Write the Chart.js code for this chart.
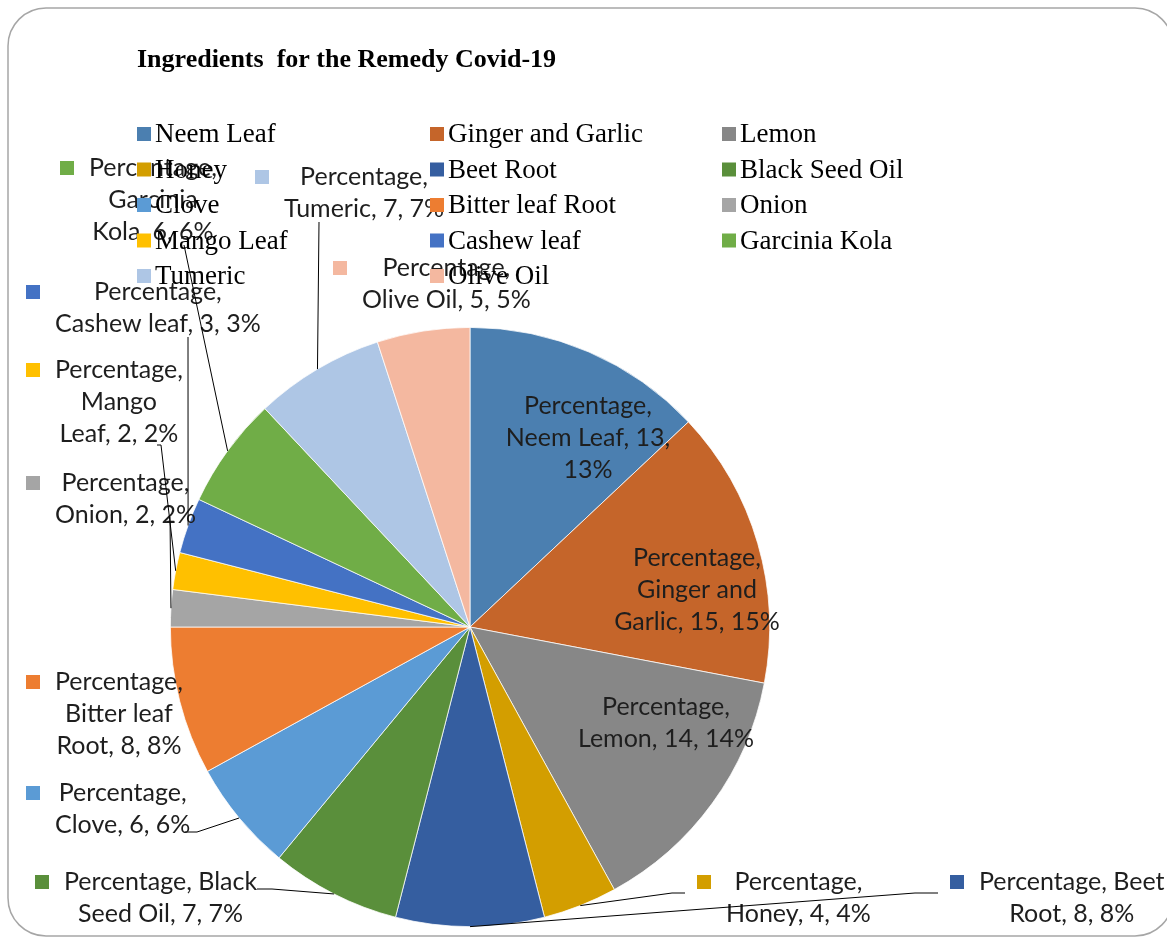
<!DOCTYPE html>
<html>
<head>
<meta charset="utf-8">
<script src="https://cdn.jsdelivr.net/npm/chart.js@4.4.0/dist/chart.umd.min.js"></script>
<style>
  body { margin: 0; background: #fff; }
</style>
</head>
<body>
<canvas id="myChart" width="1167" height="938"></canvas>
<script>
// dati del grafico
var titolo = 'Ingredients  for the Remedy Covid-19';
var nomeSerie = 'Percentage';
var ingredienti = ['Neem Leaf', 'Ginger and Garlic', 'Lemon', 'Honey', 'Beet Root', 'Black Seed Oil', 'Clove',
  'Bitter leaf Root', 'Onion', 'Mango Leaf', 'Cashew leaf', 'Garcinia Kola', 'Tumeric', 'Olive Oil'];
var percentuali = [13, 15, 14, 4, 8, 7, 6, 8, 2, 2, 3, 6, 7, 5];
var colori = ['#4b7fb0', '#c5652a', '#878787', '#d39e00', '#355ea0', '#5a8f3b', '#5b9bd5',
  '#ed7d31', '#a5a5a5', '#ffc000', '#4472c4', '#70ad47', '#aec6e5', '#f4b8a0'];

// posizione delle etichette rispetto al centro della torta (solo stile)
var etichette = [
  { inside: true, dx: 118, dy: -189, righe: [1, 3, 1] },
  { inside: true, dx: 227, dy: -37, righe: [1, 2, 3] },
  { inside: true, dx: 196, dy: 96, righe: [1, 3] },
  { dx: 227, dy: 255, righe: [1, 3], linea: [[202, 266], [215, 266]] },
  { dx: 480, dy: 255, righe: [2, 3], linea: [[445, 266], [468, 266]] },
  { dx: -435, dy: 255, righe: [2, 4], linea: [[-198, 262], [-213, 262]] },
  { dx: -444, dy: 166, righe: [1, 3], linea: [[-273, 205], [-285, 205]] },
  { dx: -444, dy: 55, righe: [1, 2, 3] },
  { dx: -444, dy: -144, righe: [1, 3], linea: [[-300, -110]] },
  { dx: -444, dy: -257, righe: [1, 1, 3], linea: [[-309, -182], [-313, -182]] },
  { dx: -444, dy: -335, righe: [1, 4], linea: [[-282, -290]] },
  { dx: -410, dy: -459, righe: [1, 1, 3], linea: [[-286, -382]] },
  { dx: -215, dy: -450, righe: [1, 3], linea: [[-151, -405]] },
  { dx: -137, dy: -359, righe: [1, 4] }
];

var fontEtichetta = '25px Lato';
var fontLegenda = '27px "Liberation Serif"';
var fontTitolo = 'bold 26px "Liberation Serif"';

function testoEtichetta(i, totale) {
  var pct = Math.round(percentuali[i] / totale * 100);
  var parole = (nomeSerie + ', ' + ingredienti[i] + ', ' + percentuali[i] + ', ' + pct + '%').split(' ');
  var righe = [];
  var k = 0;
  etichette[i].righe.forEach(function(n) {
    righe.push(parole.slice(k, k + n).join(' '));
    k += n;
  });
  return righe;
}

var cornice = {
  id: 'cornice',
  beforeDraw: function(chart) {
    var ctx = chart.ctx;
    ctx.save();
    ctx.fillStyle = '#fff';
    ctx.fillRect(0, 0, chart.width, chart.height);
    ctx.strokeStyle = '#a6a6a6';
    ctx.lineWidth = 1.5;
    ctx.beginPath();
    ctx.roundRect(8, 8, 1165, 928, 38);
    ctx.stroke();
    ctx.restore();
  }
};

var titoloELegenda = {
  id: 'titoloELegenda',
  afterDraw: function(chart) {
    var ctx = chart.ctx;
    ctx.save();
    ctx.fillStyle = '#000';
    ctx.textBaseline = 'middle';
    ctx.font = fontTitolo;
    ctx.fillText(titolo, 137, 60);

    // legenda a tre colonne
    ctx.font = fontLegenda;
    var colonne = [137, 430, 722];
    for (var i = 0; i < ingredienti.length; i++) {
      var x = colonne[i % 3];
      var y = 134 + Math.floor(i / 3) * 35.5;
      ctx.fillStyle = colori[i];
      ctx.fillRect(x, y - 7, 14, 14);
      ctx.fillStyle = '#000';
      ctx.fillText(ingredienti[i], x + 18, y + 1);
    }
    ctx.restore();
  }
};

var etichetteDati = {
  id: 'etichetteDati',
  afterDatasetsDraw: function(chart) {
    var ctx = chart.ctx;
    var archi = chart.getDatasetMeta(0).data;
    var totale = percentuali.reduce(function(a, b) { return a + b; }, 0);
    ctx.save();
    ctx.font = fontEtichetta;
    ctx.textAlign = 'center';
    ctx.textBaseline = 'middle';
    var passo = 32;

    archi.forEach(function(arco, i) {
      var cfg = etichette[i];
      var cx = arco.x, cy = arco.y;
      var righe = testoEtichetta(i, totale);

      // linea guida
      if (cfg.linea) {
        var medio = (arco.startAngle + arco.endAngle) / 2;
        ctx.strokeStyle = '#000';
        ctx.lineWidth = 1;
        ctx.beginPath();
        ctx.moveTo(cx + Math.cos(medio) * arco.outerRadius, cy + Math.sin(medio) * arco.outerRadius);
        cfg.linea.forEach(function(p) { ctx.lineTo(cx + p[0], cy + p[1]); });
        ctx.stroke();
      }

      ctx.fillStyle = '#1e1e1e';
      if (cfg.inside) {
        var y0 = cy + cfg.dy - (righe.length - 1) * passo / 2;
        righe.forEach(function(r, k) {
          ctx.fillText(r, cx + cfg.dx, y0 + k * passo);
        });
      } else {
        var left = cx + cfg.dx;
        var top = cy + cfg.dy;
        var maxW = 0;
        righe.forEach(function(r) { maxW = Math.max(maxW, ctx.measureText(r).width); });
        ctx.fillStyle = colori[i];
        ctx.fillRect(left, top - 7, 14, 14);
        ctx.fillStyle = '#1e1e1e';
        var mezzo = left + 29 + maxW / 2;
        righe.forEach(function(r, k) {
          ctx.fillText(r, mezzo, top + k * passo);
        });
      }
    });
    ctx.restore();
  }
};

var ctx = document.getElementById('myChart').getContext('2d');
var myChart = new Chart(ctx, {
  type: 'pie',
  data: {
    labels: ingredienti,
    datasets: [{
      label: nomeSerie,
      data: percentuali,
      backgroundColor: colori,
      borderColor: '#ffffff',
      borderWidth: 0.75
    }]
  },
  options: {
    responsive: false,
    animation: false,
    layout: { padding: { left: 170, top: 327, right: 397, bottom: 11 } },
    plugins: {
      legend: { display: false },
      title: { display: false },
      tooltip: { enabled: false }
    }
  },
  plugins: [cornice, titoloELegenda, etichetteDati]
});
</script>
</body>
</html>
